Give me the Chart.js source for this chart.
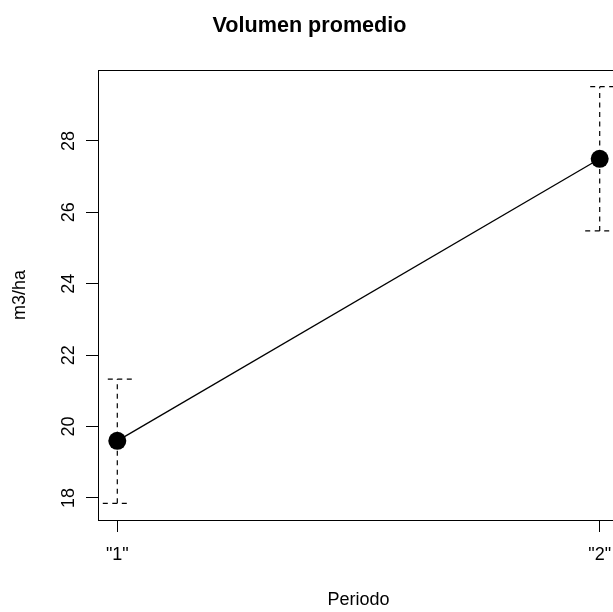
<!DOCTYPE html>
<html>
<head>
<meta charset="utf-8">
<script src="https://cdn.jsdelivr.net/npm/chart.js@4"></script>
<style>
  html, body { margin: 0; padding: 0; background: #fff; overflow: hidden; }
  #wrap { width: 640px; height: 612px; }
</style>
</head>
<body>
<div id="wrap"><canvas id="c" width="640" height="612"></canvas></div>
<script>
// ---- data ----
const periods = ['1', '2'];
const periodX = [1, 2];
const means = [19.6, 27.5];
const errLow = [17.85, 25.48];
const errHigh = [21.33, 29.52];
const yTicks = [18, 20, 22, 24, 26, 28];

const titleText = 'Volumen promedio';
const xTitle = 'Periodo';
const yTitle = 'm3/ha';

// R-like 4% axis extension
const xLo = Math.min(...periodX), xHi = Math.max(...periodX);
const xPad = (xHi - xLo) * 0.04;
const yLo = Math.min(...errLow), yHi = Math.max(...errHigh);
const yPad = (yHi - yLo) * 0.04;

const FONT = '"Liberation Sans", Arial, Helvetica, sans-serif';

const boxPlugin = {
  id: 'box',
  beforeDatasetsDraw(chart) {
    const { ctx, chartArea: a } = chart;
    ctx.save();
    ctx.strokeStyle = '#000';
    ctx.lineWidth = 1;
    ctx.strokeRect(Math.round(a.left) + 0.5, Math.round(a.top) + 0.5,
                   Math.round(a.right - a.left), Math.round(a.bottom - a.top));
    ctx.restore();
  }
};

const errPlugin = {
  id: 'errbars',
  beforeDatasetsDraw(chart) {
    const { ctx } = chart;
    const xs = chart.scales.x, ys = chart.scales.y;
    ctx.save();
    ctx.strokeStyle = '#000';
    ctx.lineWidth = 1.2;
    ctx.setLineDash([5, 4.5]);
    for (let i = 0; i < periodX.length; i++) {
      const px = xs.getPixelForValue(periodX[i]);
      const pLo = ys.getPixelForValue(errLow[i]);
      const pHi = ys.getPixelForValue(errHigh[i]);
      // vertical
      ctx.beginPath();
      ctx.moveTo(px, pLo);
      ctx.lineTo(px, pHi);
      ctx.stroke();
      // top cap
      ctx.beginPath();
      ctx.moveTo(px - 9.5, pHi);
      ctx.lineTo(px + 15, pHi);
      ctx.stroke();
      // bottom cap
      ctx.beginPath();
      ctx.moveTo(px - 14.5, pLo);
      ctx.lineTo(px + 10, pLo);
      ctx.stroke();
    }
    ctx.restore();
  }
};

new Chart(document.getElementById('c'), {
  type: 'line',
  data: {
    datasets: [{
      data: periodX.map((x, i) => ({ x: x, y: means[i] })),
      borderColor: '#000',
      borderWidth: 1.3,
      pointRadius: 9,
      pointHoverRadius: 9,
      pointBackgroundColor: '#000',
      pointBorderWidth: 0,
      tension: 0,
      clip: false
    }]
  },
  options: {
    responsive: false,
    animation: false,
    devicePixelRatio: 1,
    layout: { padding: { left: 0, top: 0, right: 21, bottom: 0 } },
    plugins: {
      legend: { display: false },
      tooltip: { enabled: false },
      title: {
        display: true,
        text: titleText,
        color: '#000',
        font: { family: FONT, size: 21.6, weight: 'bold', lineHeight: 1 },
        padding: { top: 15, bottom: 33.4 }
      }
    },
    scales: {
      x: {
        type: 'linear',
        min: xLo - xPad,
        max: xHi + xPad,
        afterFit(s) { s.height = 92; },
        afterBuildTicks(s) { s.ticks = periodX.map(v => ({ value: v })); },
        border: { display: false },
        grid: { display: true, drawOnChartArea: false, drawTicks: true, tickLength: 12, color: '#000', lineWidth: 1 },
        ticks: {
          color: '#000',
          font: { family: FONT, size: 18 },
          padding: 12,
          maxRotation: 0,
          callback: (v) => '"' + periods[Math.round(v) - 1] + '"'
        },
        title: {
          display: true,
          text: xTitle,
          color: '#000',
          font: { family: FONT, size: 18, lineHeight: 1 },
          padding: { top: 0, bottom: 2.5 }
        }
      },
      y: {
        type: 'linear',
        min: yLo - yPad,
        max: yHi + yPad,
        afterFit(s) { s.width = 98; },
        afterBuildTicks(s) { s.ticks = yTicks.map(v => ({ value: v })); },
        border: { display: false },
        grid: { display: true, drawOnChartArea: false, drawTicks: true, tickLength: 12, color: '#000', lineWidth: 1 },
        ticks: {
          color: '#000',
          font: { family: FONT, size: 18 },
          padding: 7,
          minRotation: 90,
          maxRotation: 90,
          crossAlign: 'center',
          callback: (v) => String(v)
        },
        title: {
          display: true,
          text: yTitle,
          color: '#000',
          font: { family: FONT, size: 18, lineHeight: 1 },
          padding: { top: 11, bottom: 0 }
        }
      }
    }
  },
  plugins: [boxPlugin, errPlugin]
});
</script>
</body>
</html>
